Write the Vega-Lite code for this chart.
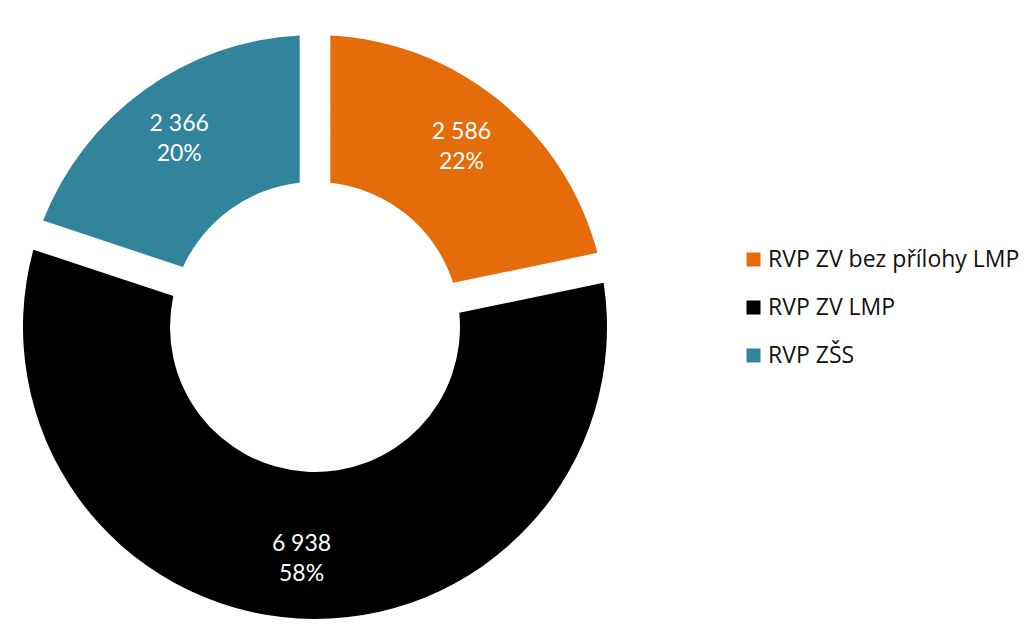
{
  "$schema": "https://vega.github.io/schema/vega-lite/v6.json",
  "width": 620,
  "height": 630,
  "autosize": {"type": "none"},
  "padding": {"left": 5, "top": 12, "right": 407, "bottom": 0},
  "background": "white",
  "data": {
    "values": [
      {"category": "RVP ZV bez přílohy LMP", "value": 2586},
      {"category": "RVP ZV LMP", "value": 6938},
      {"category": "RVP ZŠS", "value": 2366}
    ]
  },
  "transform": [
    {"window": [{"op": "row_number", "as": "i"}]},
    {"joinaggregate": [{"op": "sum", "field": "value", "as": "total"}]},
    {"calculate": "datum.value / datum.total", "as": "share"},
    {"calculate": "replace(format(datum.value, ','), ',', ' ')", "as": "valueLabel"}
  ],
  "encoding": {
    "theta": {"field": "value", "type": "quantitative", "stack": true},
    "order": {"field": "i", "type": "quantitative"}
  },
  "layer": [
    {
      "mark": {"type": "arc", "outerRadius": 292, "innerRadius": 145, "padAngle": 0.094},
      "encoding": {
        "color": {
          "field": "category",
          "type": "nominal",
          "scale": {
            "domain": ["RVP ZV bez přílohy LMP", "RVP ZV LMP", "RVP ZŠS"],
            "range": ["#E46C0A", "#000000", "#31849B"]
          },
          "legend": {
            "orient": "none",
            "legendX": 737,
            "legendY": 236,
            "title": null,
            "symbolType": "square",
            "symbolSize": 196,
            "symbolStrokeWidth": 0,
            "labelFontSize": 23,
            "labelFont": "Open Sans",
            "labelColor": "#111111",
            "labelOffset": 3,
            "rowPadding": 24,
            "labelLimit": 400
          }
        }
      }
    },
    {
      "mark": {"type": "text", "radius": 232, "dy": -15, "fontSize": 23, "font": "Lato", "color": "white"},
      "encoding": {"text": {"field": "valueLabel", "type": "nominal"}}
    },
    {
      "mark": {"type": "text", "radius": 232, "dy": 15, "fontSize": 23, "font": "Lato", "color": "white"},
      "encoding": {"text": {"field": "share", "type": "quantitative", "format": ".0%"}}
    }
  ],
  "config": {"view": {"fill": "#f3f3f3", "stroke": null}}
}
